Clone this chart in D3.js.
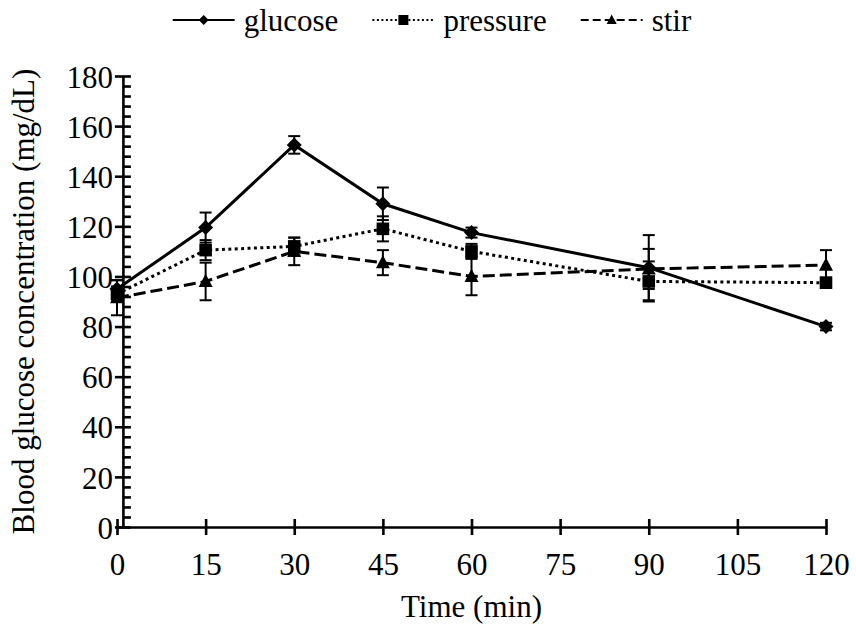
<!DOCTYPE html>
<html>
<head>
<meta charset="utf-8">
<script src="https://cdn.jsdelivr.net/npm/d3@7"></script>
<style>
  body { margin: 0; background: #fff; }
</style>
</head>
<body>
<svg id="chart" width="856" height="630"></svg>
<script>
// data
const time = [0, 15, 30, 45, 60, 90, 120];
const glucose = [95, 119.5, 152.5, 129, 117.5, 103.5, 80];
const glucoseErr = [3.5, 6, 3.5, 6.5, 2, 13, 1.5];
const pressure = [93, 110.5, 112, 119, 110, 98, 97.5];
const pressureErr = [3, 4, 3.5, 5, 3, 8, 2];
const stir = [91.5, 98, 110, 105.5, 100, 103, 104.5];
const stirErr = [7, 7.5, 5.5, 5, 7.5, 8, 6];
const xTicks = [0, 15, 30, 45, 60, 75, 90, 105, 120];
const yTicks = [0, 20, 40, 60, 80, 100, 120, 140, 160, 180];
const yMinor = d3.range(4, 180, 4).filter(v => v % 20 !== 0);

const svg = d3.select("#chart");
const font = '"Liberation Serif", "Times New Roman", serif';
const fontSize = 31;

const x = d3.scaleLinear().domain([0, 120]).range([117, 826]);
const y = d3.scaleLinear().domain([0, 180]).range([527, 76]);
const yAxisAt = x(1); // vertical axis crosses a bit right of 0

// marker shapes
function diamond(r) { return `M0,${-r}L${r},0L0,${r}L${-r},0Z`; }
function square(r) { return `M${-r},${-r}H${r}V${r}H${-r}Z`; }
function triangle(r) { return `M0,${-r * 1.1}L${r},${r * 0.8}L${-r},${r * 0.8}Z`; }

const series = [
  { name: "glucose", values: glucose, err: glucoseErr, dash: null, legDash: null, shape: diamond, size: 7.5 },
  { name: "pressure", values: pressure, err: pressureErr, dash: "3,3.4", legDash: "2,2.5", shape: square, size: 6.3 },
  { name: "stir", values: stir, err: stirErr, dash: "12,5", legDash: "8,4", shape: triangle, size: 7 }
];

// axes
const gx = svg.append("g")
  .attr("transform", `translate(0,${y(0)})`)
  .call(d3.axisBottom(x).tickValues(xTicks).tickSize(8).tickSizeOuter(0).tickPadding(18));
gx.selectAll(".tick line").attr("y1", -8);

const gyMinor = svg.append("g")
  .attr("transform", `translate(${yAxisAt},0)`)
  .call(d3.axisLeft(y).tickValues(yMinor).tickSize(-8).tickSizeOuter(0).tickFormat(""));
gyMinor.select(".domain").remove();

const gy = svg.append("g")
  .attr("transform", `translate(${yAxisAt},0)`)
  .call(d3.axisLeft(y).tickValues(yTicks).tickSize(8).tickSizeOuter(0).tickPadding(2));
gy.selectAll(".tick line").attr("x1", 8);
gy.selectAll(".tick text").attr("dy", "0.36em");

svg.selectAll(".domain, .tick line")
  .attr("stroke", "#000")
  .attr("stroke-width", 2.6);

// axis titles
svg.append("text")
  .attr("x", (x(0) + x(120)) / 2)
  .attr("y", 617)
  .attr("text-anchor", "middle")
  .text("Time (min)");

svg.append("text")
  .attr("transform", `translate(34,${(y(0) + y(180)) / 2}) rotate(-90)`)
  .attr("text-anchor", "middle")
  .text("Blood glucose concentration (mg/dL)");

// series
const line = d3.line().x((d, i) => x(time[i])).y(d => y(d));

series.forEach(s => {
  const g = svg.append("g").attr("class", "series");

  g.append("path")
    .datum(s.values)
    .attr("d", line)
    .attr("fill", "none")
    .attr("stroke", "#000")
    .attr("stroke-width", 3)
    .attr("stroke-dasharray", s.dash);

  const eb = g.selectAll(".err")
    .data(s.values)
    .join("g")
    .attr("class", "err");
  eb.append("line")
    .attr("x1", (d, i) => x(time[i]))
    .attr("x2", (d, i) => x(time[i]))
    .attr("y1", (d, i) => y(d - s.err[i]))
    .attr("y2", (d, i) => y(d + s.err[i]));
  eb.append("line")
    .attr("x1", (d, i) => x(time[i]) - 6)
    .attr("x2", (d, i) => x(time[i]) + 6)
    .attr("y1", (d, i) => y(d + s.err[i]))
    .attr("y2", (d, i) => y(d + s.err[i]));
  eb.append("line")
    .attr("x1", (d, i) => x(time[i]) - 6)
    .attr("x2", (d, i) => x(time[i]) + 6)
    .attr("y1", (d, i) => y(d - s.err[i]))
    .attr("y2", (d, i) => y(d - s.err[i]));
  eb.selectAll("line").attr("stroke", "#000").attr("stroke-width", 2);

  g.selectAll(".mark")
    .data(s.values)
    .join("path")
    .attr("class", "mark")
    .attr("transform", (d, i) => `translate(${x(time[i])},${y(d)})`)
    .attr("d", s.shape(s.size))
    .attr("fill", "#000");
});

// legend
const legend = svg.append("g");
const lineLen = 62, textGap = 9, entryGap = 34, legY = 20;
const legendTexts = [];
series.forEach(s => {
  const e = legend.append("g");
  e.append("line")
    .attr("x1", 0).attr("x2", lineLen)
    .attr("y1", legY).attr("y2", legY)
    .attr("stroke", "#000")
    .attr("stroke-width", 2.2)
    .attr("stroke-dasharray", s.legDash);
  e.append("path")
    .attr("transform", `translate(${lineLen / 2},${legY})`)
    .attr("d", s.shape(5))
    .attr("fill", "#000");
  e.append("text")
    .attr("x", lineLen + textGap)
    .attr("y", legY + 11)
    .text(s.name);
  legendTexts.push(e);
});

// every text in serif, set inline so the axis defaults do not win
svg.selectAll("text")
  .style("font-family", font)
  .style("font-size", fontSize + "px")
  .style("fill", "#000");

let cursor = 0;
legendTexts.forEach(e => {
  e.attr("transform", `translate(${cursor},0)`);
  cursor += lineLen + textGap + e.select("text").node().getComputedTextLength() + entryGap;
});
const legW = cursor - entryGap;
legend.attr("transform", `translate(${432 - legW / 2},0)`);
</script>
</body>
</html>
